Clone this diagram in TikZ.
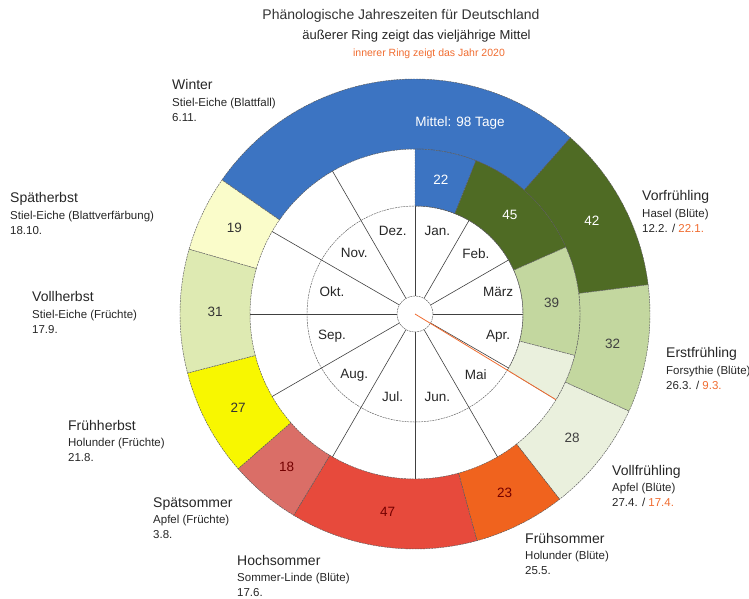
\documentclass[tikz,border=0pt]{standalone}
\usepackage{fontspec}
\setmainfont{Liberation Sans}
\usepackage{xcolor}

\definecolor{winterblue}{RGB}{60,116,194}
\definecolor{vorgreen}{RGB}{79,107,36}
\definecolor{erstgreen}{RGB}{195,215,159}
\definecolor{vollgreen}{RGB}{234,240,221}
\definecolor{fruehsorange}{RGB}{240,99,30}
\definecolor{hochred}{RGB}{231,74,60}
\definecolor{spaetsred}{RGB}{218,110,103}
\definecolor{fruehhyellow}{RGB}{248,247,0}
\definecolor{vollhgreen}{RGB}{222,234,178}
\definecolor{spaethyellow}{RGB}{250,252,202}
\definecolor{dateorange}{RGB}{240,108,48}

\tikzset{
  ringline/.style={draw=black!65, line width=0.45pt, dash pattern=on 2pt off 0.8pt},
  spoke/.style={draw=black!75, line width=0.6pt},
  monthlbl/.style={font=\fontsize{13.5}{15}\selectfont, text=black!85},
  numlbl/.style={font=\fontsize{13.5}{15}\selectfont},
  stitle/.style={font=\fontsize{14}{16}\selectfont, inner sep=0pt, anchor=base west, text=black!85},
  sinfo/.style={font=\fontsize{11.5}{13}\selectfont, inner sep=0pt, anchor=base west, text=black!85},
}

% ring segment: fill, from day, to day, inner radius, outer radius
\newcommand{\ringseg}[5]{%
  \pgfmathsetmacro{\segA}{90-#2/365*360}%
  \pgfmathsetmacro{\segB}{90-#3/365*360}%
  \filldraw[ringline, fill=#1] (\segA:#4) arc[start angle=\segA, end angle=\segB, radius=#4]
    -- (\segB:#5) arc[start angle=\segB, end angle=\segA, radius=#5] -- cycle;
}
% season label: name, x, y, season, plant, date
\newcommand{\seasonlabel}[6]{%
  \node[stitle] (#1) at (#2,#3) {#4};
  \node[sinfo] (#1p) at ([yshift=-16.5pt]#1.base west) {#5};
  \node[sinfo] (#1d) at ([yshift=-15pt]#1p.base west) {#6};
}

\begin{document}
\begin{tikzpicture}[x=1pt,y=1pt]
  \useasboundingbox (-415,-285) rectangle (334,314);
  \coordinate (c) at (0,0);

  % outer ring: long-term mean
  \ringseg{winterblue}{309}{407}{165}{235}
  \ringseg{vorgreen}{42}{84}{165}{235}
  \ringseg{erstgreen}{84}{116}{165}{235}
  \ringseg{vollgreen}{116}{144}{165}{235}
  \ringseg{fruehsorange}{144}{167}{165}{235}
  \ringseg{hochred}{167}{214}{165}{235}
  \ringseg{spaetsred}{214}{232}{165}{235}
  \ringseg{fruehhyellow}{232}{259}{165}{235}
  \ringseg{vollhgreen}{259}{290}{165}{235}
  \ringseg{spaethyellow}{290}{309}{165}{235}

  % month spokes
  \foreach \a in {0,30,...,330}
    \draw[spoke] (\a:18) -- (\a:165);

  % inner ring: 2020
  \ringseg{winterblue}{0}{22}{108}{165}
  \ringseg{vorgreen}{22}{67}{108}{165}
  \ringseg{erstgreen}{67}{106}{108}{165}
  \ringseg{vollgreen}{106}{123}{108}{165}

  \draw[ringline] (c) circle[radius=108];
  \draw[ringline, fill=white] (c) circle[radius=18];
  \draw[dateorange, line width=0.8pt] (c) -- ({90-123/365*360}:165);

  % months
  \foreach \m [count=\i] in {Jan.,Feb.,März,Apr.,Mai,Jun.,Jul.,Aug.,Sep.,Okt.,Nov.,Dez.}
    \node[monthlbl] (m\i) at ({105-30*\i}:86) {\m};

  % days per phase
  \foreach \d/\r/\t/\c in {11/137/22/white, 44.5/137/45/white, 86.5/137/39/black!75,
      63/200/42/white, 100/200/32/black!75, 130/200/28/black!75, 155.5/200/23/red!45!black,
      190.5/200/47/red!45!black, 223/200/18/red!45!black, 245.5/200/27/black!80,
      274.5/200/31/black!80, 299.5/200/19/black!80}
    \node[numlbl, text=\c] (n\t) at ({90-\d/365*360}:\r) {\t};
  \node[numlbl, text=white] (n98) at (45,191) {Mittel: 98 Tage};

  % title
  \node[font=\fontsize{14}{16}\selectfont, text=black!80, anchor=base] (title) at (-14,294) {Phänologische Jahreszeiten für Deutschland};
  \node[font=\fontsize{13}{15}\selectfont, text=black!85, anchor=base] (sub1) at (1.5,274.5) {äußerer Ring zeigt das vieljährige Mittel};
  \node[font=\fontsize{10.5}{12}\selectfont, text=dateorange, anchor=base] (sub2) at (14,257) {innerer Ring zeigt das Jahr 2020};

  % phases
  \seasonlabel{winter}{-243}{224}{Winter}{Stiel-Eiche (Blattfall)}{6.11.}
  \seasonlabel{spaeth}{-405}{111}{Spätherbst}{Stiel-Eiche (Blattverfärbung)}{18.10.}
  \seasonlabel{vollh}{-383}{12}{Vollherbst}{Stiel-Eiche (Früchte)}{17.9.}
  \seasonlabel{fruehh}{-347}{-116}{Frühherbst}{Holunder (Früchte)}{21.8.}
  \seasonlabel{spaets}{-262}{-193}{Spätsommer}{Apfel (Früchte)}{3.8.}
  \seasonlabel{hochs}{-178}{-251}{Hochsommer}{Sommer-Linde (Blüte)}{17.6.}
  \seasonlabel{fruehs}{110}{-229}{Frühsommer}{Holunder (Blüte)}{25.5.}
  \seasonlabel{vollf}{197}{-161}{Vollfrühling}{Apfel (Blüte)}{27.4. / \textcolor{dateorange}{17.4.}}
  \seasonlabel{erstf}{251}{-44}{Erstfrühling}{Forsythie (Blüte)}{26.3. / \textcolor{dateorange}{9.3.}}
  \seasonlabel{vorf}{227}{113}{Vorfrühling}{Hasel (Blüte)}{12.2. / \textcolor{dateorange}{22.1.}}
\end{tikzpicture}
\end{document}
